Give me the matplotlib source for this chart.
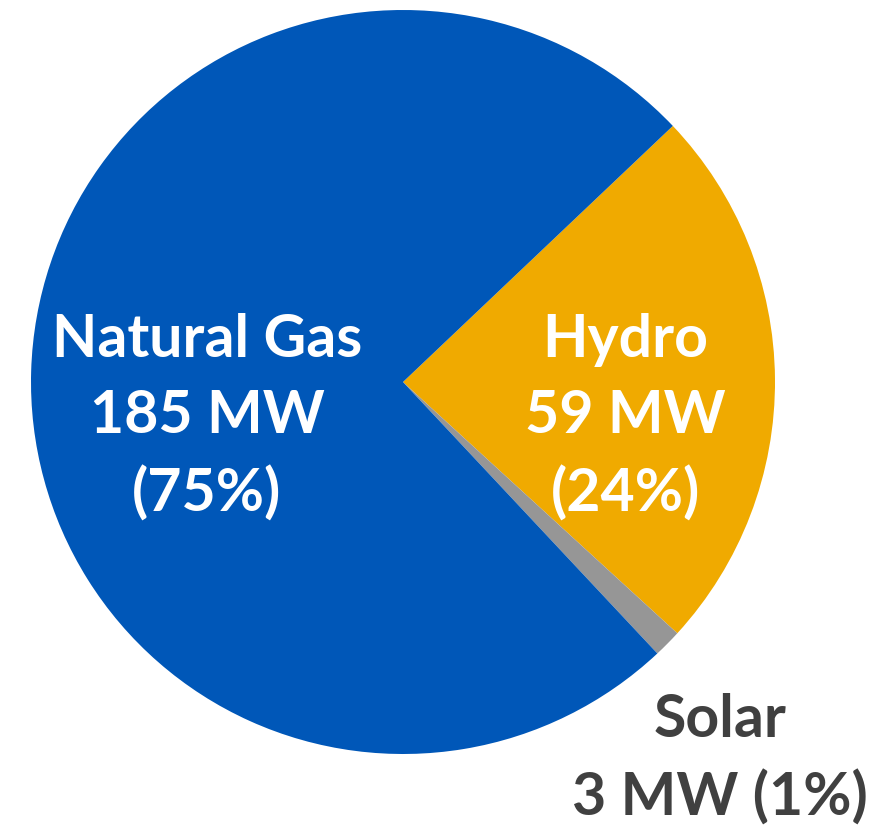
# Installed capacity pie chart

import matplotlib.pyplot as plt

plt.rcParams['font.family'] = ['Lato', 'DejaVu Sans']

sources = ['Hydro', 'Solar', 'Natural Gas']
capacity_mw = [59, 3, 185]
shares = ['24%', '1%', '75%']
colors = ['#F0AA00', '#969696', '#0057B8']

fig = plt.figure(figsize=(8.82, 8.29), dpi=100)
# axes sized so the unit circle sits where the reference pie is
ax = fig.add_axes([31 / 882, 74 / 829, 744 / 882, 744 / 829])

wedges, _ = ax.pie(capacity_mw, colors=colors, startangle=43.5,
                   counterclock=False, radius=1,
                   wedgeprops=dict(linewidth=0))
ax.set_xlim(-1, 1)
ax.set_ylim(-1, 1)
ax.set_aspect('auto')
ax.axis('off')

txt = dict(fontsize=42.5, fontweight='bold', ha='center', va='center',
           linespacing=1.5)

ax.text(-0.527, -0.092, '{}\n{} MW\n({})'.format(sources[2], capacity_mw[2], shares[2]),
        color='white', **txt)
ax.text(0.597, -0.092, '{}\n{} MW\n({})'.format(sources[0], capacity_mw[0], shares[0]),
        color='white', **txt)
ax.text(0.852, -1.012, '{}\n{} MW ({})'.format(sources[1], capacity_mw[1], shares[1]),
        color='#404040', clip_on=False, **txt)

fig.savefig('out.png')
